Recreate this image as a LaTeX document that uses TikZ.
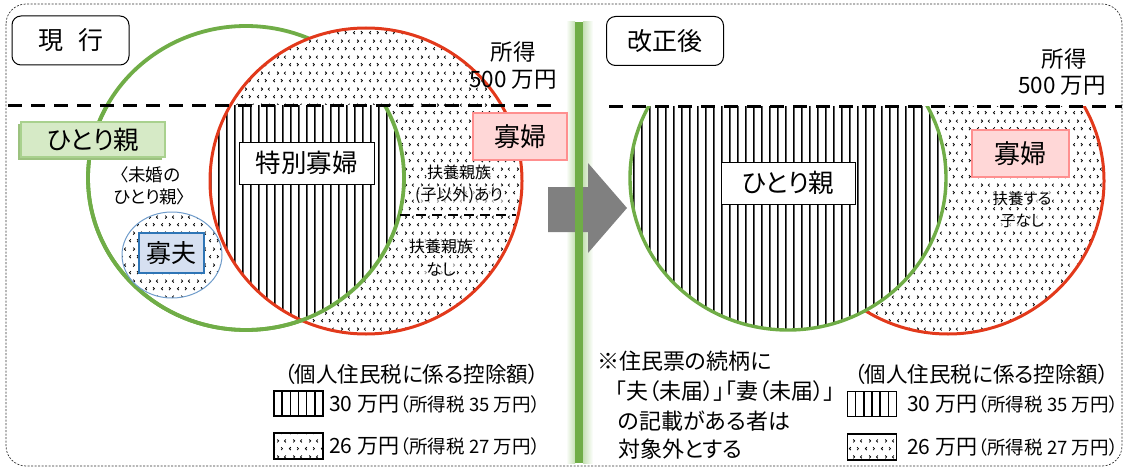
\documentclass[tikz,border=0pt]{standalone}
\usepackage{fontspec}
\setmainfont{Noto Sans CJK JP}[RawFeature=+palt]
\usetikzlibrary{patterns.meta,shadows}
\definecolor{grn}{HTML}{70AD47}
\definecolor{glow}{HTML}{C5E0B4}
\definecolor{redc}{HTML}{E2391B}
\definecolor{pinkfill}{HTML}{FFD7D7}
\definecolor{pinkdraw}{HTML}{FF8F8F}
\definecolor{gboxfill}{HTML}{D6EAC6}
\definecolor{gboxdraw}{HTML}{A9D18E}
\definecolor{gboxshadow}{HTML}{9CC27F}
\definecolor{bluefill}{HTML}{D6E0F1}
\definecolor{bluedraw}{HTML}{2E75B6}
\definecolor{bluering}{HTML}{6F9CCB}
\definecolor{arrowgray}{HTML}{808080}
\newcommand\myfs[1]{\fontsize{#1pt}{#1pt}\selectfont}
\tikzdeclarepattern{
  name=vstripes, type=uncolored,
  bounding box={(0pt,0pt) and (8.3pt,10pt)},
  tile size={(8.3pt,10pt)},
  code={\draw[line width=1.7pt] (4.15pt,-1pt) -- (4.15pt,11pt);}
}
\tikzdeclarepattern{
  name=chev, type=uncolored,
  bounding box={(0pt,0pt) and (16pt,16pt)},
  tile size={(16pt,16pt)},
  code={
    \draw[line width=0.85pt] (3pt,2pt) -- (1.5pt,3.5pt) -- (3pt,5pt);
    \draw[line width=0.85pt] (9.5pt,2pt) -- (11pt,3.5pt) -- (9.5pt,5pt);
    \draw[line width=0.85pt] (5.5pt,10pt) -- (7pt,11.5pt) -- (5.5pt,13pt);
    \draw[line width=0.85pt] (14.5pt,10pt) -- (13pt,11.5pt) -- (14.5pt,13pt);
  }
}
\tikzset{
  frame/.style={draw=black!80, line width=0.7pt, dash pattern=on 2pt off 1.5pt, rounded corners=20pt},
  titlebox/.style={draw, line width=1pt, rounded corners=9pt, fill=white, inner sep=0pt,
    minimum width=117pt, minimum height=49pt, font=\myfs{25}},
  gline/.style={draw=grn, line width=3.8pt},
  glineR/.style={draw=grn, line width=3.4pt},
  rline/.style={draw=redc, line width=3pt},
  bigdash/.style={line width=3pt, dash pattern=on 14pt off 9pt},
  middash/.style={line width=2.6pt, dash pattern=on 10pt off 6pt},
  labelbox/.style={draw, line width=0.8pt, fill=white, inner sep=0pt, font=\myfs{25.5}},
  pinkbox/.style={draw=pinkdraw, line width=1.6pt, fill=pinkfill, inner sep=0pt, font=\myfs{26}},
  greenbox/.style={draw=gboxdraw, line width=1.4pt, fill=gboxfill, inner sep=0pt, font=\myfs{25.5},
    drop shadow={shadow xshift=-3pt, shadow yshift=-2.5pt, fill=gboxshadow, opacity=1}},
  bluebox/.style={draw=bluedraw, line width=1.6pt, fill=bluefill, inner sep=0pt, font=\myfs{25}},
  small/.style={font=\myfs{16}, fill=white, fill opacity=0.6, text opacity=1, inner sep=1pt},
  plain/.style={inner sep=0pt},
  legbig/.style={anchor=west, inner sep=0pt, font=\myfs{21}},
  legsmall/.style={anchor=west, inner sep=0pt, font=\myfs{18.5}},
  legstripe/.style={draw, line width=1.2pt, minimum width=49pt, minimum height=25pt, inner sep=0pt},
  legdots/.style={draw, line width=1.2pt, minimum width=49pt, minimum height=26pt, inner sep=0pt, pattern=chev},
}
\begin{document}
\begin{tikzpicture}[x=1pt,y=-1pt]
\useasboundingbox (0,0) rectangle (1126,468);
% outer frame
\draw[frame] (6,4) rectangle (1122,466);

% ---------- centre bar and arrow ----------
\shade[left color=white, right color=glow] (566,22) rectangle (575,463);
\shade[left color=glow, right color=white] (583,22) rectangle (593,463);
\fill[arrowgray] (548,187) -- (588,187) -- (588,163) -- (627,208) -- (588,253) -- (588,232) -- (548,232) -- cycle;
\fill[grn] (575,22) rectangle (583,463);

% ---------- left panel ----------
\def\GL{(246,178) ellipse [x radius=158, y radius=152]}
\def\RL{(366,181) ellipse [x radius=156, y radius=153]}
\draw[gline] \GL;
\fill[white] \RL;
\fill[pattern=chev] \RL;
\begin{scope}
  \clip \RL;
  \clip (0,106) rectangle (560,468);
  \fill[white] \GL;
  \fill[pattern=vstripes] \GL;
\end{scope}
\draw[rline] \RL;
\begin{scope}
  \clip (0,106) rectangle (560,468);
  \draw[gline] \GL;
\end{scope}
% widower circle
\fill[white] (172,255) ellipse [x radius=50, y radius=43];
\fill[pattern=chev] (172,255) ellipse [x radius=50, y radius=43];
\draw[draw=bluering, line width=1pt] (172,255) ellipse [x radius=50, y radius=43];

\coordinate (dashL1) at (8,106);
\coordinate (dashL2) at (555,106);
\draw[bigdash] (dashL1) -- (dashL2);
\coordinate (dl1) at (400,215);
\coordinate (dl2) at (516,215);
\draw[middash] (dl1) -- (dl2);

\node[titlebox] (genko) at (70.5,40.5) {現\hspace{0.6em}行};
\node[plain, font=\myfs{22.5}] (shotokuL) at (513,52) {所得};
\node[plain, font=\myfs{22.5}] (gohyakuL) at (513,80) {500 万円};
\node[labelbox, minimum width=135pt, minimum height=42pt] (tokubetsu) at (306.5,163) {特別寡婦};
\node[pinkbox, minimum width=94pt, minimum height=47pt] (kafuL) at (520,136.5) {寡婦};
\node[greenbox, minimum width=144pt, minimum height=35pt] (hitoriL) at (93,139.5) {ひとり親};
\node[plain, font=\myfs{17.5}] (mikon1) at (150,175) {〈未婚の};
\node[plain, font=\myfs{17.5}] (mikon2) at (150,197) {ひとり親〉};
\node[bluebox, minimum width=65pt, minimum height=40pt] (kafu) at (171.5,253) {寡夫};
\node[small] (fuyo1) at (459,172) {扶養親族};
\node[small] (fuyo2) at (459,195) {(子以外)あり};
\node[small] (fuyo3) at (441,246) {扶養親族};
\node[small] (fuyo4) at (441,269) {なし};

% left legend
\node[plain, font=\myfs{21.5}] (legheadL) at (411.5,374) {（個人住民税に係る控除額）};
\node[legstripe] (legsL) at (298.5,403.5) {};
\foreach \k in {1,...,5} \draw[line width=1.5pt] (274+8.17*\k,391) -- (274+8.17*\k,416);
\node[legbig] (leg30L) at (329,404) {30 万円};
\node[legsmall] (leg35L) at ([xshift=0.5pt]leg30L.east) {（所得税 35 万円）};
\node[legdots] (legdL) at (298.5,446) {};
\node[legbig] (leg26L) at (329,446) {26 万円};
\node[legsmall] (leg27L) at ([xshift=0.5pt]leg26L.east) {（所得税 27 万円）};

% ---------- right panel ----------
\def\GR{(788,178) ellipse [x radius=158, y radius=152]}
\def\RR{(948,181) ellipse [x radius=156, y radius=153]}
\begin{scope}
  \clip (600,107) rectangle (1122,468);
  \fill[white] \RR;
  \fill[pattern=chev] \RR;
  \draw[rline] \RR;
  \fill[white] \GR;
  \fill[pattern=vstripes] \GR;
  \draw[glineR] \GR;
\end{scope}
\coordinate (dashR1) at (609,107);
\coordinate (dashR2) at (1122,107);
\draw[bigdash] (dashR1) -- (dashR2);

\node[titlebox] (kaisei) at (665,41) {改正後};
\node[plain, font=\myfs{22.5}] (shotokuR) at (1064,59) {所得};
\node[plain, font=\myfs{22.5}] (gohyakuR) at (1062,86) {500 万円};
\node[labelbox, minimum width=134pt, minimum height=42pt] (hitoriR) at (788,183) {ひとり親};
\node[pinkbox, minimum width=97pt, minimum height=47pt] (kafuR) at (1020.5,153.5) {寡婦};
\node[small, font=\myfs{15.5}] (fuyo5) at (1022,199) {扶養する};
\node[small, font=\myfs{15.5}] (fuyo6) at (1022,221) {子なし};

% note
\node[anchor=west, plain, font=\myfs{22}] (note1) at (597,361) {※住民票の続柄に};
\node[anchor=west, plain, font=\myfs{22}] (note2) at (615,391) {「夫（未届）」「妻（未届）」};
\node[anchor=west, plain, font=\myfs{22}] (note3) at (618,421) {の記載がある者は};
\node[anchor=west, plain, font=\myfs{22}] (note4) at (618,449) {対象外とする};

% right legend
\node[plain, font=\myfs{21.5}] (legheadR) at (981.5,374) {（個人住民税に係る控除額）};
\node[legstripe] (legsR) at (872,404) {};
\foreach \k in {1,...,5} \draw[line width=1.5pt] (847.5+8.17*\k,391.5) -- (847.5+8.17*\k,416.5);
\node[legbig] (leg30R) at (907,404) {30 万円};
\node[legsmall] (leg35R) at ([xshift=0.5pt]leg30R.east) {（所得税 35 万円）};
\node[legdots] (legdR) at (872,447) {};
\node[legbig] (leg26R) at (907,447) {26 万円};
\node[legsmall] (leg27R) at ([xshift=0.5pt]leg26R.east) {（所得税 27 万円）};
\end{tikzpicture}
\end{document}
